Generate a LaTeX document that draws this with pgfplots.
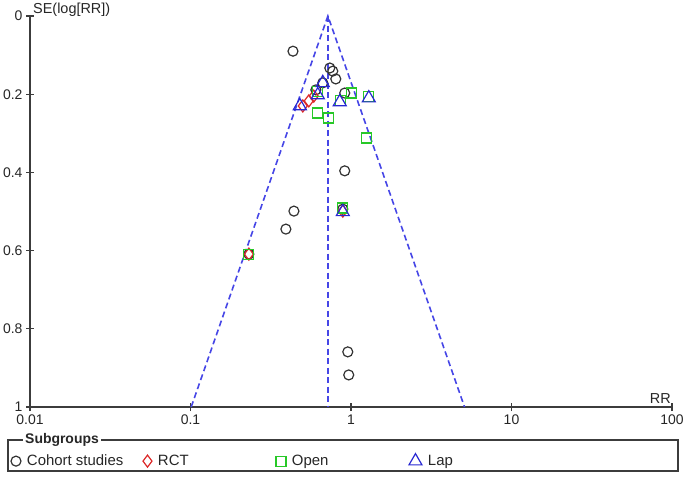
\documentclass[border=0pt]{standalone}
\usepackage{pgfplots}
\pgfplotsset{compat=1.18}
\usepackage{pgfplotstable}
\usepackage{fontspec}
\setmainfont{Liberation Sans}
\definecolor{funnel}{RGB}{70,70,230}
\definecolor{rctred}{RGB}{220,40,40}
\definecolor{opengreen}{RGB}{40,200,40}
\definecolor{lapblue}{RGB}{40,40,210}
\definecolor{cohort}{RGB}{50,50,50}
\definecolor{axisgray}{RGB}{60,60,60}

\pgfplotstableread{
rr se
0.435 0.090
0.738 0.133
0.770 0.141
0.804 0.161
0.604 0.189
0.667 0.171
0.914 0.197
0.914 0.396
0.441 0.499
0.393 0.545
0.889 0.494
0.231 0.609
0.955 0.859
0.968 0.918
}\cohorttab

\pgfplotstableread{
rr se
0.501 0.230
0.546 0.217
0.586 0.205
0.889 0.499
0.231 0.609
}\rcttab

\pgfplotstableread{
rr se
0.621 0.248
0.728 0.261
1.012 0.197
1.291 0.205
0.865 0.217
1.254 0.312
0.889 0.491
0.231 0.609
0.621 0.194
}\opentab

\pgfplotstableread{
rr se
0.667 0.171
0.621 0.202
0.480 0.230
0.851 0.220
1.291 0.210
0.889 0.501
}\laptab

\begin{document}
\begin{tikzpicture}[font=\fontsize{14.5}{17}\selectfont]
\useasboundingbox (0,0) rectangle (685bp,478bp);
\begin{axis}[
  name=ax, at={(30bp,71bp)}, anchor=south west,
  scale only axis, width=642bp, height=391bp,
  xmode=log, xmin=0.01, xmax=100,
  ymin=0, ymax=1, y dir=reverse,
  axis x line=bottom, axis y line=left,
  axis line style={axisgray, line width=1.3bp, -},
  xtick={0.01,0.1,1,10,100},
  xticklabels={0.01,0.1,1,10,100},
  xminorticks=false,
  ytick={0,0.2,0.4,0.6,0.8,1},
  yticklabels={0,0.2,0.4,0.6,0.8,1},
  tick align=center, major tick length=8bp,
  tick style={axisgray, line width=1.1bp},
  /pgf/number format/assume math mode=true,
  ticklabel style={text=black!85, font=\fontsize{14}{16}\selectfont},
  clip=false,
  legend style={draw=none, fill=none,
    at={(axis description cs:-0.0296,-0.138)}, anchor=west,
    legend columns=4, inner sep=0pt, outer sep=0pt,
    font=\fontsize{15}{17}\selectfont,
    nodes={inner sep=1bp, text=black!85},
    /tikz/every odd column/.append style={column sep=5bp}},
  legend image code/.code={\draw[mark repeat=2,mark phase=2,#1] plot coordinates {(0bp,0bp) (6bp,0bp) (12bp,0bp)};},
]
\addplot[funnel, dash pattern=on 6bp off 3.5bp, line width=1.6bp, forget plot] coordinates {(0.101,1) (0.718,0) (5.097,1)};
\addplot[funnel, dash pattern=on 6bp off 3.5bp, line width=1.6bp, forget plot] coordinates {(0.718,0) (0.718,1)};
\addplot[only marks, mark=o, mark size=5bp, cohort, mark options={line width=1.2bp}] table[x=rr,y=se] {\cohorttab};
\addlegendentry{\makebox[115bp][l]{Cohort studies}}
\addplot[only marks, mark=diamond, mark size=6bp, rctred, mark options={line width=1.2bp}] table[x=rr,y=se] {\rcttab};
\addlegendentry{\makebox[117bp][l]{RCT}}
\addplot[only marks, mark=square, mark size=5bp, opengreen, mark options={line width=1.2bp}] table[x=rr,y=se] {\opentab};
\addlegendentry{\makebox[116bp][l]{Open}}
\addplot[only marks, mark=triangle, mark size=7.5bp, lapblue, mark options={line width=1.2bp}] table[x=rr,y=se] {\laptab};
\addlegendentry{Lap}
\end{axis}
\node[anchor=south west, text=black!85, inner sep=1bp] at ([xshift=2bp,yshift=-2bp]ax.north west) {SE(log[RR])};
\node[anchor=south east, text=black!85, inner sep=1bp] at ([xshift=0bp,yshift=2bp]ax.south east) {RR};
\draw[axisgray, line width=1.2bp] (8bp,7bp) rectangle (678bp,38bp);
\node[fill=white, font=\bfseries\fontsize{14}{16}\selectfont, text=black!85, inner sep=2bp] at (62bp,38bp) {Subgroups};
\end{tikzpicture}
\end{document}
